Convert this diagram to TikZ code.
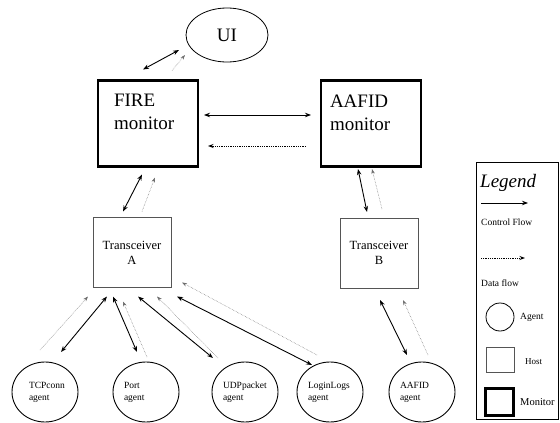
\documentclass[tikz,border=0pt]{standalone}
\usepackage{fontspec}
\setmainfont{Liberation Serif}
\usepackage{xcolor}
\usepackage{tikz}
\usetikzlibrary{shapes.geometric, arrows.meta, positioning}
\definecolor{hostline}{HTML}{555555}
\definecolor{datagray}{HTML}{6E6E6E}
\tikzstyle{monitor} = [rectangle, draw=black, line width=2.5pt, minimum width=100pt, minimum height=86pt, inner sep=0pt, outer sep=0pt, font=\fontsize{19}{23}\selectfont]
\tikzstyle{host} = [rectangle, draw=hostline, line width=0.7pt, minimum width=78pt, minimum height=70pt, outer sep=0pt, align=center, font=\fontsize{12.5}{15}\selectfont]
\tikzstyle{agent} = [ellipse, draw=black, line width=0.9pt, minimum width=66pt, minimum height=60pt, inner sep=1pt, outer sep=0pt, text width=44pt, align=left, font=\fontsize{9.5}{12}\selectfont]
\tikzstyle{uinode} = [ellipse, draw=black, line width=0.8pt, minimum width=82pt, minimum height=54pt, outer sep=0pt, font=\fontsize{19}{21}\selectfont]
\tikzstyle{legendtext} = [anchor=west, inner sep=0pt, font=\fontsize{9.5}{11}\selectfont]
\tikzstyle{ctrl} = [<->, >={Stealth[length=6pt, width=4.5pt]}, line width=0.9pt, color=black]
\tikzstyle{ctrlone} = [->, >={Stealth[length=6pt, width=4.5pt]}, line width=0.9pt, color=black]
\tikzstyle{data} = [->, >={Stealth[length=5pt, width=3.5pt]}, densely dotted, line width=0.5pt, color=datagray]
\tikzstyle{datadark} = [->, >={Stealth[length=5.5pt, width=4pt]}, densely dotted, line width=0.8pt, color=black]
\newcommand{\montext}[2]{\parbox[c][86pt][t]{100pt}{\vspace*{14pt}\leftskip=#1\relax #2\par}}

\begin{document}
\begin{tikzpicture}[x=1pt, y=1pt]
    \useasboundingbox (0,0) rectangle (560,-423);

    \node[monitor] (fire) at (148,-123.5) {\montext{16pt}{FIRE\\monitor}};
    \node[monitor, right=123pt of fire] (aafid) {\montext{9pt}{AAFID\\monitor}};
    \node[uinode] (ui) at (227,-35) {UI};
    \node[host, below=51pt of fire, xshift=-16pt] (tA) {Transceiver\\A};
    \node[host, below=51.5pt of aafid, xshift=8pt] (tB) {Transceiver\\B};

    \node[agent] (tcp) at (45,-392) {\hspace*{6pt}TCPconn\\\hspace*{6pt}agent};
    \node[agent, right=35pt of tcp] (port) {Port\\agent};
    \node[agent, right=33pt of port] (udp) {UDPpacket\\agent};
    \node[agent, right=19pt of udp] (login) {LoginLogs\\agent};
    \node[agent, right=26pt of login] (aag) {AAFID\\agent};

    \draw[ctrl] ([shift={(-5,11)}]fire.north) -- ([shift={(-48,-15)}]ui.center);
    \draw[data] ([shift={(24,10)}]fire.north) -- ([shift={(-42,-20)}]ui.center);
    \draw[ctrl] ([shift={(6,8.5)}]fire.east) -- ([shift={(-10,8.5)}]aafid.west);
    \draw[datadark] ([shift={(-15,-22.5)}]aafid.west) -- ([shift={(10,-22.5)}]fire.east);
    \draw[ctrl] ([shift={(-9,6)}]tA.north) -- ([shift={(-6,-8)}]fire.south);
    \draw[data] ([shift={(10,6)}]tA.north) -- ([shift={(7,-11)}]fire.south);
    \draw[ctrl] ([shift={(-13,-2.5)}]aafid.south) -- ([shift={(-12,6)}]tB.north);
    \draw[data] ([shift={(3,9)}]tB.north) -- ([shift={(1,-2.5)}]aafid.south);
    \draw[ctrl] ([shift={(1,-12)}]tB.south) -- ([shift={(-15,7)}]aag.north);
    \draw[data] ([shift={(6,7)}]aag.north) -- ([shift={(24,-12)}]tB.south);

    \draw[data] ([shift={(-5,12)}]tcp.north) -- ([shift={(-44,-9)}]tA.south);
    \draw[ctrl] ([shift={(16,10)}]tcp.north) -- ([shift={(-25,-9)}]tA.south);
    \draw[ctrl] ([shift={(-19,-9)}]tA.south) -- ([shift={(-9,10)}]port.north);
    \draw[data] ([shift={(1,5)}]port.north) -- ([shift={(-9,-14)}]tA.south);
    \draw[ctrl] ([shift={(6,-9)}]tA.south) -- ([shift={(-32,4)}]udp.north);
    \draw[data] ([shift={(-27,4)}]udp.north) -- ([shift={(25,-9)}]tA.south);
    \draw[ctrl] ([shift={(45,-9)}]tA.south) -- ([shift={(-18,-3)}]login.north);
    \draw[data] ([shift={(-13,7)}]login.north) -- ([shift={(50,5)}]tA.south);

    \node[rectangle, draw=black, line width=0.7pt, minimum width=82pt, minimum height=257pt] (legend) at (517,-290.5) {};
    \node[legendtext, font=\fontsize{19}{21}\selectfont\itshape] (legtitle) at (480,-183) {Legend};
    \coordinate (cfstart) at (481,-203);
    \coordinate (cfend) at (528,-203);
    \draw[ctrlone] (cfstart) -- (cfend);
    \node[legendtext] (cftext) at (481,-222) {Control Flow};
    \coordinate (dfstart) at (481,-258);
    \coordinate (dfend) at (525,-258);
    \draw[datadark] (dfstart) -- (dfend);
    \node[legendtext] (dftext) at (481,-283) {Data flow};
    \node[circle, draw=black, line width=0.8pt, minimum size=28pt] (legagent) at (500,-317) {};
    \node[legendtext] (agtext) at (520,-317) {Agent};
    \node[rectangle, draw=hostline, line width=0.7pt, minimum width=28pt, minimum height=25pt] (leghost) at (500,-359.5) {};
    \node[legendtext, font=\fontsize{9}{11}\selectfont] (hosttext) at (525,-362) {Host};
    \node[rectangle, draw=black, line width=2.5pt, minimum width=28pt, minimum height=27pt] (legmon) at (499.5,-402) {};
    \node[legendtext, font=\fontsize{10.5}{12}\selectfont] (montext) at (520,-402) {Monitor};
\end{tikzpicture}
\end{document}
